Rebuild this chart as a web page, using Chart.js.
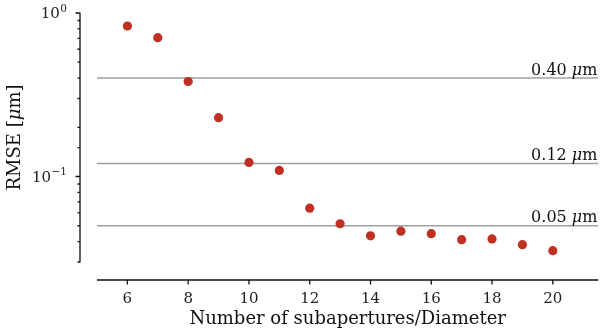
<!DOCTYPE html>
<html>
<head>
<meta charset="utf-8">
<script src="https://cdn.jsdelivr.net/npm/chart.js@4.4.1/dist/chart.umd.min.js"></script>
<style>
  html, body { margin: 0; padding: 0; background: #fff; }
  #wrap { width: 603px; height: 336px; }
</style>
</head>
<body>
<div id="wrap"><canvas id="c" width="603" height="336"></canvas></div>
<script>
// RMSE of the reconstruction versus sampling density
const subapertures = [6, 7, 8, 9, 10, 11, 12, 13, 14, 15, 16, 17, 18, 19, 20];
const rmse = [0.833, 0.706, 0.381, 0.229, 0.122, 0.109, 0.064, 0.0514, 0.0434, 0.0463, 0.0447, 0.0411, 0.0415, 0.0383, 0.0352];

// Reference error levels (µm)
const thresholds = [0.40, 0.12, 0.05];
const thresholdLabels = ['0.40', '0.12', '0.05'];

// Tick labels
const xTicks = [6, 8, 10, 12, 14, 16, 18, 20];
const yMajorTicks = [1, 0.1];
const yTickExponents = ['0', '-1'];

const SERIF = '"DejaVu Serif", serif';
const RED = 'rgb(192, 48, 34)';
const GREY = 'rgb(160, 160, 160)';
const INK = '#111';

const majorIndex = v => yMajorTicks.findIndex(m => Math.abs(Math.log10(v) - Math.log10(m)) < 1e-6);

// Axis spines drawn detached from the plot area, plus the power-of-ten labels
const offsetSpines = {
  id: 'offsetSpines',
  afterDraw(chart) {
    const { ctx, chartArea: a, scales: { x, y } } = chart;
    const yAxisX = a.left - 17;
    const xAxisY = a.bottom + 18;
    ctx.save();
    ctx.strokeStyle = INK;
    ctx.lineWidth = 1.3;
    ctx.lineCap = 'butt';
    ctx.beginPath();
    ctx.moveTo(yAxisX, a.top - 0.5);
    ctx.lineTo(yAxisX, a.bottom + 0.5);
    y.ticks.forEach(t => {
      const py = y.getPixelForValue(t.value);
      const len = majorIndex(t.value) >= 0 ? 4.5 : 2.5;
      ctx.moveTo(yAxisX - len, py);
      ctx.lineTo(yAxisX, py);
    });
    ctx.moveTo(a.left, xAxisY);
    ctx.lineTo(a.right, xAxisY);
    x.ticks.forEach(t => {
      const px = x.getPixelForValue(t.value);
      ctx.moveTo(px, xAxisY);
      ctx.lineTo(px, xAxisY + 4.5);
    });
    ctx.stroke();

    // 10^n labels with a raised exponent
    ctx.fillStyle = '#222';
    ctx.textBaseline = 'alphabetic';
    ctx.textAlign = 'left';
    const baseFont = '15px ' + SERIF;
    const supFont = '10.5px ' + SERIF;
    yMajorTicks.forEach((v, i) => {
      const py = y.getPixelForValue(v);
      const exp = yTickExponents[i].replace('-', '\u2212');
      ctx.font = baseFont;
      const wBase = ctx.measureText('10').width;
      ctx.font = supFont;
      const wSup = ctx.measureText(exp).width;
      const right = yAxisX - 13;
      const left = right - wBase - wSup - 0.5;
      ctx.font = baseFont;
      ctx.fillText('10', left, py + 5.3);
      ctx.font = supFont;
      ctx.fillText(exp, left + wBase + 0.5, py - 1.5);
    });

    // vertical axis title with italic mu
    ctx.save();
    ctx.translate(15, (a.top + a.bottom) / 2);
    ctx.rotate(-Math.PI / 2);
    ctx.fillStyle = INK;
    ctx.textBaseline = 'middle';
    const parts = [['RMSE [', '18px ' + SERIF], ['\u03BC', 'italic 18px ' + SERIF], ['m]', '18px ' + SERIF]];
    const widths = parts.map(([s, f]) => { ctx.font = f; return ctx.measureText(s).width; });
    let px = -widths.reduce((p, w) => p + w, 0) / 2;
    parts.forEach(([s, f], k) => { ctx.font = f; ctx.fillText(s, px, 0); px += widths[k]; });
    ctx.restore();
    ctx.restore();
  }
};

// "0.40 µm"-style labels sitting on the reference lines
const thresholdText = {
  id: 'thresholdText',
  afterDatasetsDraw(chart) {
    const { ctx, chartArea: a, scales: { y } } = chart;
    ctx.save();
    ctx.fillStyle = INK;
    ctx.textBaseline = 'alphabetic';
    ctx.textAlign = 'left';
    const numFont = '16px ' + SERIF;
    const muFont = 'italic 16px ' + SERIF;
    thresholds.forEach((v, i) => {
      const py = y.getPixelForValue(v) - 3.5;
      ctx.font = numFont;
      const wNum = ctx.measureText(thresholdLabels[i] + ' ').width;
      const wM = ctx.measureText('m').width;
      ctx.font = muFont;
      const wMu = ctx.measureText('\u03BC').width;
      let px = a.right - 1 - (wNum + wMu + wM);
      ctx.font = numFont;
      ctx.fillText(thresholdLabels[i] + ' ', px, py);
      px += wNum;
      ctx.font = muFont;
      ctx.fillText('\u03BC', px, py);
      px += wMu;
      ctx.font = numFont;
      ctx.fillText('m', px, py);
    });
    ctx.restore();
  }
};

const datasets = [
  {
    type: 'scatter',
    data: subapertures.map((n, i) => ({ x: n, y: rmse[i] })),
    backgroundColor: RED,
    borderColor: RED,
    borderWidth: 0,
    pointRadius: 4.6,
    order: 0
  }
].concat(thresholds.map(v => ({
  type: 'line',
  data: [{ x: 5, y: v }, { x: 21.5, y: v }],
  borderColor: GREY,
  borderWidth: 1.5,
  pointRadius: 0,
  fill: false,
  order: 1
})));

const noPad = s => { s.paddingTop = 0; s.paddingBottom = 0; s.paddingLeft = 0; s.paddingRight = 0; };

new Chart(document.getElementById('c'), {
  data: { datasets },
  options: {
    responsive: false,
    animation: false,
    devicePixelRatio: 1,
    layout: { padding: { top: 13, right: 3, left: 0, bottom: 0 } },
    plugins: { legend: { display: false }, tooltip: { enabled: false } },
    scales: {
      x: {
        type: 'linear',
        min: 5,
        max: 21.5,
        afterBuildTicks: s => { s.ticks = xTicks.map(v => ({ value: v })); },
        afterFit: s => { s.height = 74; noPad(s); },
        grid: { display: false, drawTicks: false },
        border: { display: false },
        ticks: {
          autoSkip: false,
          maxRotation: 0,
          padding: 28,
          color: '#222',
          font: { family: SERIF, size: 15 },
          callback: v => String(v)
        },
        title: {
          display: true,
          text: 'Number of subapertures/Diameter',
          color: INK,
          font: { family: SERIF, size: 18 },
          padding: { top: 0, bottom: 6 }
        }
      },
      y: {
        type: 'logarithmic',
        min: 0.03,
        max: 1,
        afterFit: s => { s.width = 97; noPad(s); },
        grid: { display: false, drawTicks: false },
        border: { display: false },
        ticks: {
          autoSkip: false,
          display: true,
          padding: 30,
          font: { family: SERIF, size: 15 },
          callback: () => ''
        },
        title: { display: false }
      }
    }
  },
  plugins: [offsetSpines, thresholdText]
});
</script>
</body>
</html>
